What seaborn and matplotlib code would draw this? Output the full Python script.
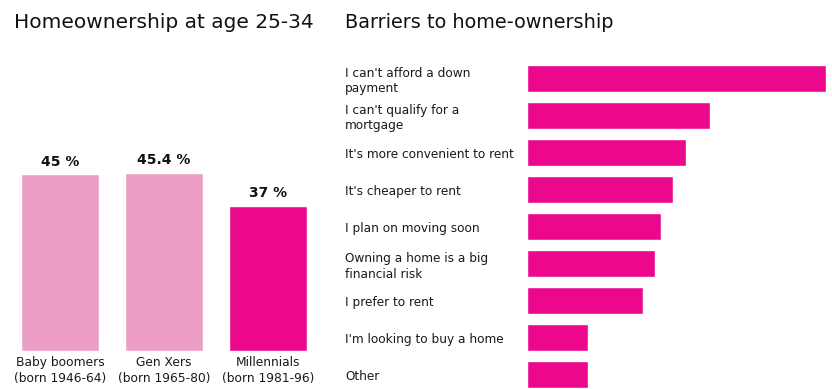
import matplotlib
matplotlib.use("Agg")
import matplotlib.pyplot as plt
import seaborn as sns
import pandas as pd

# Homeownership rate at age 25-34, by generation
cohorts = ["Baby boomers\n(born 1946-64)", "Gen Xers\n(born 1965-80)", "Millennials\n(born 1981-96)"]
ownership_pct = [45, 45.4, 37]
value_labels = ["45 %", "45.4 %", "37 %"]

# Reasons given for not owning a home (share of respondents, %)
barriers = [
    "I can't afford a down\npayment",
    "I can't qualify for a\nmortgage",
    "It's more convenient to rent",
    "It's cheaper to rent",
    "I plan on moving soon",
    "Owning a home is a big\nfinancial risk",
    "I prefer to rent",
    "I'm looking to buy a home",
    "Other",
]
barrier_pct = [49, 30, 26, 24, 22, 21, 19, 10, 10]

LIGHT_PINK = "#EC9EC5"
MAGENTA = "#EB088C"

sns.set_theme(style="white")
plt.rcParams["font.family"] = ["DejaVu Sans"]

W, H = 832, 389
fig = plt.figure(figsize=(W / 100, H / 100), dpi=100)


def px_axes(left, top, right, bottom):
    return fig.add_axes([left / W, 1 - bottom / H, (right - left) / W, (bottom - top) / H])


# ---- left panel: generational homeownership ----
ax1 = px_axes(8, 154.5, 320, 351)
df1 = pd.DataFrame({"cohort": cohorts, "pct": ownership_pct})
sns.barplot(data=df1, x="cohort", y="pct", hue="cohort",
            palette=[LIGHT_PINK, LIGHT_PINK, MAGENTA], width=0.75,
            legend=False, ax=ax1, saturation=1)
ax1.set_xlim(-0.5, 2.5)
ax1.set_ylim(0, 50)
for bar, lab in zip(ax1.patches, value_labels):
    ax1.annotate(lab, (bar.get_x() + bar.get_width() / 2, bar.get_height()),
                 xytext=(0, 4), textcoords="offset points",
                 ha="center", va="bottom", fontsize=10, fontweight="bold",
                 color="#111111")
ax1.set_xlabel("")
ax1.set_ylabel("")
ax1.set_yticks([])
ax1.tick_params(axis="x", length=0, pad=3.5, labelsize=8.8, labelcolor="#1a1a1a")
for t in ax1.get_xticklabels():
    t.set_linespacing(1.3)
sns.despine(ax=ax1, left=True, bottom=True)
fig.text(14 / W, 1 - 28 / H, "Homeownership at age 25-34", fontsize=14.5,
         color="#111111", ha="left", va="baseline")

# ---- right panel: barriers to ownership ----
ax2 = px_axes(527, 60, 826, 393.5)
df2 = pd.DataFrame({"barrier": barriers, "pct": barrier_pct})
sns.barplot(data=df2, y="barrier", x="pct", color=MAGENTA, width=0.73,
            orient="h", ax=ax2, saturation=1)
ax2.set_xlim(0, 49)
ax2.set_ylim(8.5, -0.5)
ax2.set_xlabel("")
ax2.set_ylabel("")
ax2.set_xticks([])
ax2.tick_params(axis="y", length=0, pad=(527 - 345) * 0.72, labelsize=8.75,
                labelcolor="#1a1a1a")
for t in ax2.get_yticklabels():
    t.set_ha("left")
    t.set_linespacing(1.22)
sns.despine(ax=ax2, left=True, bottom=True)
fig.text(345 / W, 1 - 28 / H, "Barriers to home-ownership", fontsize=13.9,
         color="#111111", ha="left", va="baseline")

fig.savefig("out.png", dpi=100)
